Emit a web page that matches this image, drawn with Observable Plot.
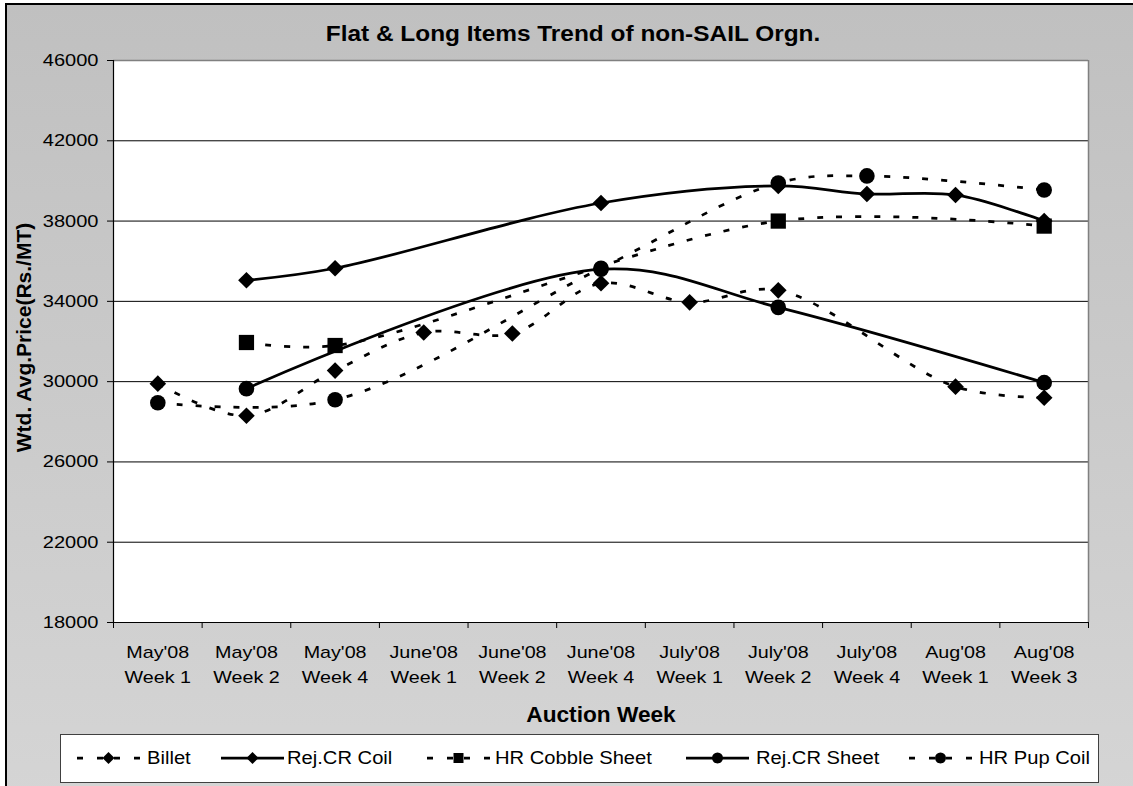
<!DOCTYPE html>
<html><head><meta charset="utf-8">
<script src="https://cdn.jsdelivr.net/npm/d3@7"></script>
<script src="https://cdn.jsdelivr.net/npm/@observablehq/plot@0.6"></script>
<style>
body{margin:0;background:#fff;}
#wrap{position:relative;width:1133px;height:786px;overflow:hidden;font-family:"Liberation Sans",Arial,sans-serif;}
#bg{position:absolute;left:5px;top:3px;width:1140px;height:800px;border-top:2px solid #000;border-left:2px solid #000;background:linear-gradient(#c0c0c0,#d5d5d5);}
#chart{position:absolute;left:0;top:0;}
#legend{position:absolute;left:60px;top:734px;width:1037px;height:47px;background:#fff;border:1px solid #404040;}
.sw{position:absolute;top:750px;}
.lt{position:absolute;top:749px;font-size:18px;line-height:18px;white-space:nowrap;transform:scaleX(1.12);transform-origin:left center;color:#000;}
</style></head>
<body>
<div id="wrap"><div id="bg"></div><div id="legend"></div><div id="chart"></div></div>
<script>
// ---- data ----
const months = ["May'08","May'08","May'08","June'08","June'08","June'08","July'08","July'08","July'08","Aug'08","Aug'08"];
const weeks  = ["Week 1","Week 2","Week 4","Week 1","Week 2","Week 4","Week 1","Week 2","Week 4","Week 1","Week 3"];
const seriesNames = ["Billet","Rej.CR Coil","HR Cobble Sheet","Rej.CR Sheet","HR Pup Coil"];
const billet        = [29900, 28300, 30550, 32450, 32400, 34900, 33950, 34550, null, 29750, 29200];
const rejCrCoil     = [null, 35050, 35650, null, null, 38900, null, 39750, 39350, 39300, 38000];
const hrCobbleSheet = [null, 31950, 31800, null, null, null, null, 38000, null, null, 37750];
const rejCrSheet    = [null, 29650, null, null, null, 35600, null, 33700, null, null, 29950];
const hrPupCoil     = [28950, null, 29100, null, null, 35650, null, 39900, 40250, null, 39550];
const yTicks = [18000, 22000, 26000, 30000, 34000, 38000, 42000, 46000];
const titleText = "Flat & Long Items Trend of non-SAIL Orgn.";
const xTitle = "Auction Week";
const yTitle = "Wtd. Avg.Price(Rs./MT)";

// ---- styles ----
const seriesValues = [billet, rejCrCoil, hrCobbleSheet, rejCrSheet, hrPupCoil];
const styles = [
  {dash:true,  symbol:"diamond2", r:7.5},
  {dash:false, symbol:"diamond2", r:7.5},
  {dash:true,  symbol:"square",   r:8.6},
  {dash:false, symbol:"circle",   r:7.8},
  {dash:true,  symbol:"circle",   r:7.8}
];

const rows = [];
seriesNames.forEach((s, k) => seriesValues[k].forEach((v, i) => { if (v != null) rows.push({series:s, k, i, value:v}); }));
const idx = d3.range(months.length);
const bounds = d3.range(months.length + 1).map(i => i - 0.5);

const seriesMarks = [];
seriesNames.forEach((s, k) => {
  const d = rows.filter(r => r.k === k);
  const st = styles[k];
  seriesMarks.push(Plot.line(d, {x:"i", y:"value", curve:"catmull-rom", stroke:"black", strokeWidth:2.75,
    strokeDasharray: st.dash ? "6,13" : null, strokeLinecap: st.dash ? "butt" : "round"}));
  seriesMarks.push(Plot.dot(d, {x:"i", y:"value", symbol:st.symbol, r:st.r, fill:"black", stroke:null}));
});

const font = "Liberation Sans, Arial, sans-serif";
const plot = Plot.plot({
  width:1133, height:786, marginLeft:113, marginRight:45, marginTop:60, marginBottom:164,
  style:{background:"transparent", fontFamily:font, color:"black", overflow:"visible"},
  x:{type:"linear", domain:[-0.5, months.length - 0.5], axis:null},
  y:{domain:[18000, 46000], axis:null},
  marks:[
    Plot.frame({fill:"white", stroke:null}),
    Plot.gridY(yTicks.filter(v => v > 18000 && v < 46000), {stroke:"black", strokeOpacity:1, strokeWidth:1}),
    Plot.ruleY([46000], {stroke:"#808080", strokeWidth:1.5}),
    Plot.ruleX([months.length - 0.5], {stroke:"#808080", strokeWidth:1.5}),
    Plot.ruleX([-0.5], {stroke:"black", strokeWidth:1.2}),
    Plot.ruleY([18000], {stroke:"black", strokeWidth:1.2}),
    Plot.axisY({ticks:yTicks, tickSize:6, tickPadding:9, fontSize:17, tickFormat:d => String(d), label:null}),
    Plot.axisX({ticks:bounds, tickSize:6, tickFormat:() => "", label:null}),
    Plot.text(idx, {x:d => d, frameAnchor:"bottom", lineAnchor:"middle", dy:30, text:i => months[i], fontSize:17}),
    Plot.text(idx, {x:d => d, frameAnchor:"bottom", lineAnchor:"middle", dy:55, text:i => weeks[i], fontSize:17}),
    ...seriesMarks,
    Plot.text([titleText], {text:d => d, frameAnchor:"top", textAnchor:"middle", lineAnchor:"middle", dx:-28, dy:-27, fontSize:22, fontWeight:"bold"}),
    Plot.text([xTitle], {text:d => d, frameAnchor:"bottom", textAnchor:"middle", lineAnchor:"middle", dy:92, fontSize:22, fontWeight:"bold"}),
    Plot.text([yTitle], {text:d => d, frameAnchor:"left", textAnchor:"middle", lineAnchor:"middle", dx:-89, dy:-4, rotate:-90, fontSize:21, fontWeight:"bold"})
  ]
});
document.getElementById("chart").appendChild(plot);

// widen glyphs horizontally (the reference text is drawn wider than Arial)
function factorFor(s) {
  if (/^\d+$/.test(s)) return 1.18;
  if (months.includes(s) || weeks.includes(s)) return 1.16;
  if (s === titleText) return 1.11;
  if (s === xTitle) return 1.03;
  return 1.0;
}
plot.querySelectorAll("text").forEach(t => {
  const s = t.textContent;
  if (!s) return;
  const f = factorFor(s);
  if (f === 1) return;
  const tr = t.getAttribute("transform") || "";
  t.setAttribute("transform", (tr + ` scale(${f},1)`).trim());
});

// ---- legend ----
const wrap = document.getElementById("wrap");
const symLeft = [77, 221, 427, 686, 909];
const txtLeft = [147, 287, 495, 756, 979];
const ns = "http://www.w3.org/2000/svg";
seriesNames.forEach((s, k) => {
  const st = styles[k];
  const svg = document.createElementNS(ns, "svg");
  svg.setAttribute("width", 63); svg.setAttribute("height", 16);
  svg.setAttribute("class", "sw"); svg.style.left = symLeft[k] + "px";
  const mk = (tag, attrs) => { const e = document.createElementNS(ns, tag); for (const a in attrs) e.setAttribute(a, attrs[a]); svg.appendChild(e); return e; };
  if (st.dash) {
    mk("line", {x1:0, y1:8, x2:31.5, y2:8, stroke:"#000", "stroke-width":2.75, "stroke-dasharray":"6,14"});
    mk("line", {x1:63, y1:8, x2:31.5, y2:8, stroke:"#000", "stroke-width":2.75, "stroke-dasharray":"6,14"});
  } else {
    mk("line", {x1:0, y1:8, x2:63, y2:8, stroke:"#000", "stroke-width":2.75});
  }
  if (st.symbol === "diamond2") mk("path", {d:"M31.5,2L37.5,8L31.5,14L25.5,8Z", fill:"#000"});
  else if (st.symbol === "square") mk("rect", {x:26.5, y:3, width:10, height:10, fill:"#000"});
  else mk("circle", {cx:31.5, cy:8, r:5.5, fill:"#000"});
  wrap.appendChild(svg);
  const t = document.createElement("span");
  t.className = "lt"; t.style.left = txtLeft[k] + "px"; t.textContent = s;
  wrap.appendChild(t);
});
</script>
</body></html>
